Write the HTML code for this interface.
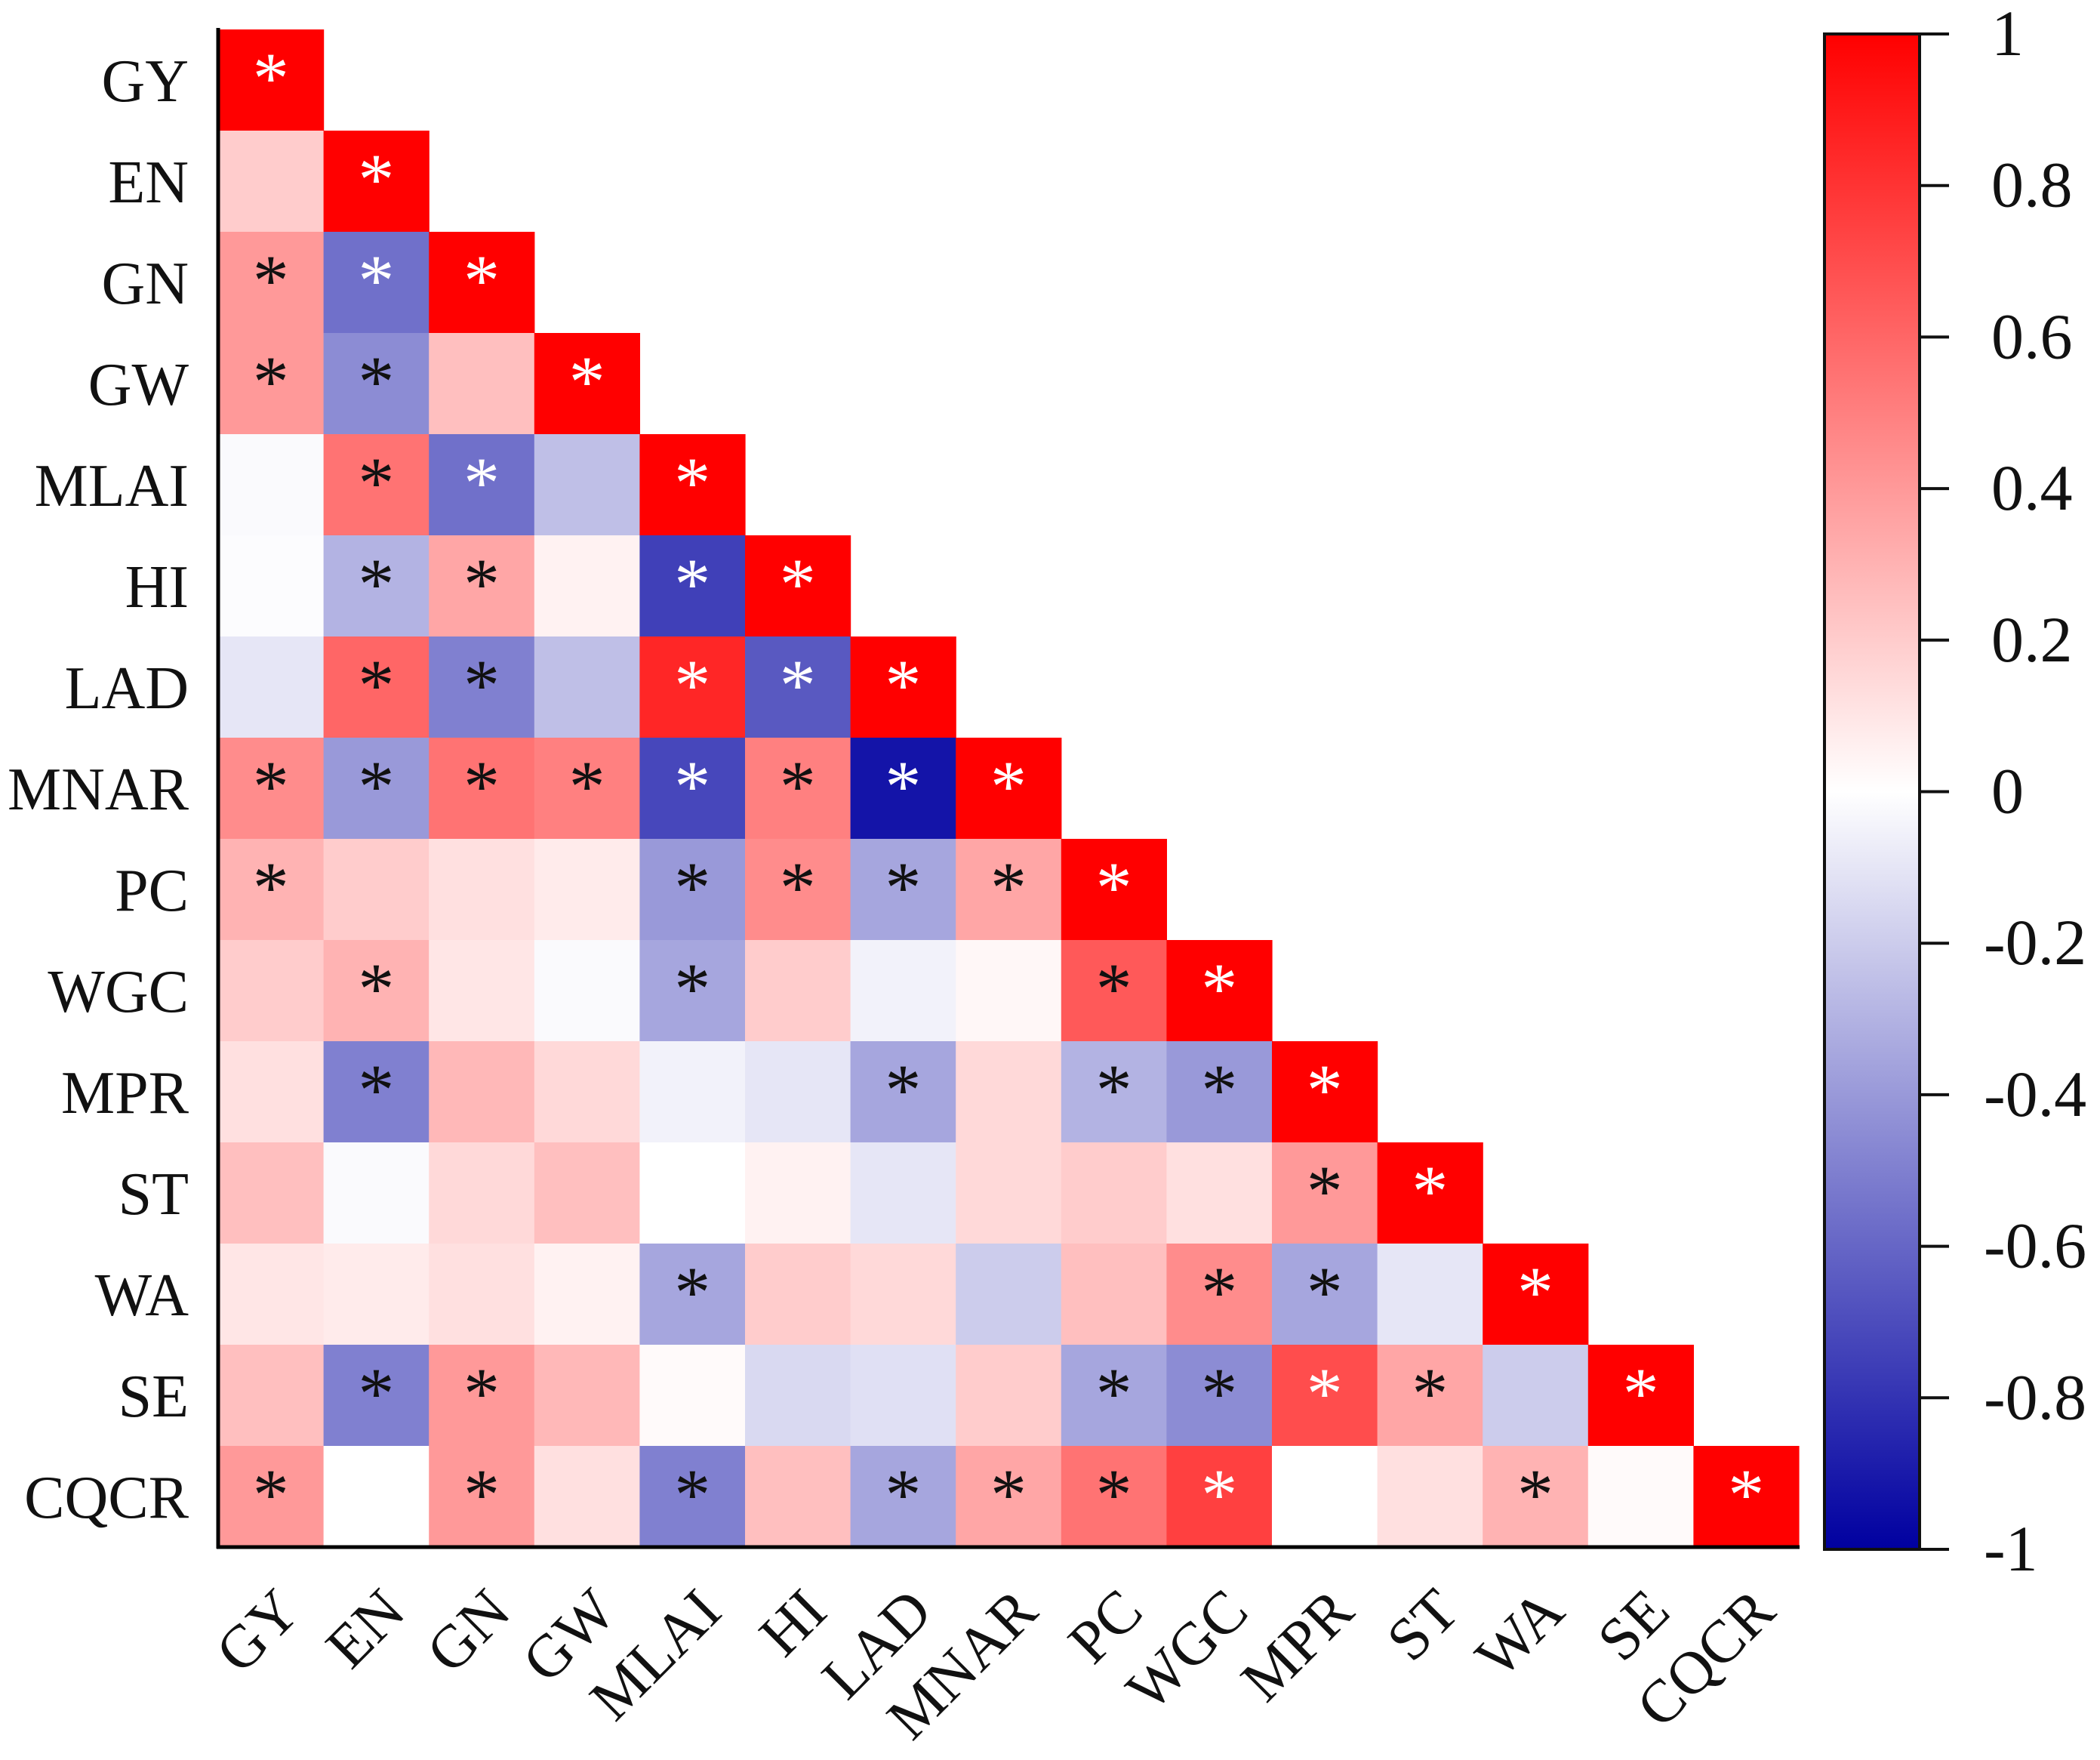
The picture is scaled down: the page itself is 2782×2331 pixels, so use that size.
<!DOCTYPE html>
<html><head><meta charset="utf-8"><style>
html,body{margin:0;padding:0;background:#fff;}
svg{display:block;font-family:"Liberation Serif",serif;}
</style></head><body>
<svg id="chart" width="2782" height="2331" viewBox="0 0 2782 2331" xmlns="http://www.w3.org/2000/svg">
<defs>
<linearGradient id="cbgrad" x1="0" y1="1" x2="0" y2="0">
<stop offset="0" stop-color="rgb(0,0,160)"/>
<stop offset="0.5" stop-color="#ffffff"/>
<stop offset="1" stop-color="rgb(255,0,0)"/>
</linearGradient>
</defs>
<g id="cells"></g>
<g id="stars"></g>
<g id="ylabels"></g>
<g id="xlabels"></g>
<line x1="289" y1="37" x2="289" y2="2051" stroke="#000" stroke-width="5"/>
<line x1="287" y1="2049" x2="2384" y2="2049" stroke="#000" stroke-width="5"/>
<rect x="2417" y="45" width="126" height="2007" fill="url(#cbgrad)" stroke="#111" stroke-width="4"/>
<g id="cbticks"></g>
</svg>
<script>
const variables = ["GY","EN","GN","GW","MLAI","HI","LAD","MNAR","PC","WGC","MPR","ST","WA","SE","CQCR"];
// lower-triangle correlation values, row i has i+1 entries (last = diagonal)
const row0 = [1];
const row1 = [0.2,1];
const row2 = [0.4,-0.56,1];
const row3 = [0.4,-0.45,0.25,1];
const row4 = [-0.02,0.55,-0.56,-0.25,1];
const row5 = [-0.01,-0.3,0.35,0.05,-0.75,1];
const row6 = [-0.1,0.6,-0.5,-0.25,0.85,-0.65,1];
const row7 = [0.45,-0.4,0.55,0.5,-0.72,0.5,-0.92,1];
const row8 = [0.3,0.2,0.12,0.08,-0.4,0.45,-0.35,0.35,1];
const row9 = [0.2,0.3,0.1,-0.02,-0.35,0.2,-0.05,0.03,0.65,1];
const row10 = [0.12,-0.5,0.28,0.15,-0.05,-0.1,-0.35,0.15,-0.3,-0.4,1];
const row11 = [0.25,-0.02,0.15,0.25,0,0.05,-0.1,0.15,0.2,0.12,0.4,1];
const row12 = [0.1,0.08,0.12,0.05,-0.35,0.2,0.15,-0.2,0.25,0.45,-0.35,-0.1,1];
const row13 = [0.25,-0.5,0.4,0.28,0.02,-0.15,-0.12,0.2,-0.35,-0.45,0.7,0.35,-0.2,1];
const row14 = [0.4,0,0.4,0.12,-0.5,0.25,-0.35,0.35,0.55,0.75,0,0.12,0.3,0.02,1];
const values = [row0,row1,row2,row3,row4,row5,row6,row7,row8,row9,row10,row11,row12,row13,row14];
// significance flags (1 = star)
const sig0 = [1];
const sig1 = [0,1];
const sig2 = [1,1,1];
const sig3 = [1,1,0,1];
const sig4 = [0,1,1,0,1];
const sig5 = [0,1,1,0,1,1];
const sig6 = [0,1,1,0,1,1,1];
const sig7 = [1,1,1,1,1,1,1,1];
const sig8 = [1,0,0,0,1,1,1,1,1];
const sig9 = [0,1,0,0,1,0,0,0,1,1];
const sig10 = [0,1,0,0,0,0,1,0,1,1,1];
const sig11 = [0,0,0,0,0,0,0,0,0,0,1,1];
const sig12 = [0,0,0,0,1,0,0,0,0,1,1,0,1];
const sig13 = [0,1,1,0,0,0,0,0,1,1,1,1,0,1];
const sig14 = [1,0,1,0,1,0,1,1,1,1,0,0,1,0,1];
const sigs = [sig0,sig1,sig2,sig3,sig4,sig5,sig6,sig7,sig8,sig9,sig10,sig11,sig12,sig13,sig14];
const cbTicks = [1,0.8,0.6,0.4,0.2,0,-0.2,-0.4,-0.6,-0.8,-1];
const cbTickLabels = ["1","0.8","0.6","0.4","0.2","0","-0.2","-0.4","-0.6","-0.8","-1"];

const NS = "http://www.w3.org/2000/svg";
const X0 = 289, Y0 = 39, CW = (2383-289)/15, CH = 134;
const xPos = j => X0 + j*CW;
const yPos = i => Y0 + i*CH;
const CB_TOP = 45, CB_BOT = 2052;
const cbY = v => CB_BOT - (v+1)/2*(CB_BOT-CB_TOP);
function color(v){
  if (v >= 0){ const c = Math.round(255*(1-v)); return `rgb(255,${c},${c})`; }
  const t = -v; return `rgb(${Math.round(255*(1-t))},${Math.round(255*(1-t))},${Math.round(255-95*t)})`;
}
function mk(tag, attrs, parent){
  const el = document.createElementNS(NS, tag);
  for (const k in attrs) el.setAttribute(k, attrs[k]);
  parent.appendChild(el); return el;
}
const gc = document.getElementById('cells'), gs = document.getElementById('stars');
const gy = document.getElementById('ylabels'), gx = document.getElementById('xlabels');
const gt = document.getElementById('cbticks');
values.forEach((row,i)=>{
  row.forEach((v,j)=>{
    const r = mk('rect',{x:xPos(j),y:yPos(i),width:CW+0.6,height:CH+0.6,fill:color(v)},gc);
    
    
    if (sigs[i][j]){
      const white = v > 0.68 || v < -0.52;
      const s = mk('text',{x:xPos(j)+CW/2,y:yPos(i)+CH/2+30,'text-anchor':'middle','font-size':96,fill:white?'#fff':'#111'},gs);
      s.textContent = '*';
      
      
    }
  });
});
variables.forEach((name,i)=>{
  const t = mk('text',{x:250,y:yPos(i)+CH/2+28,'text-anchor':'end','font-size':80,fill:'#111'},gy);
  t.textContent = name;
  
  
  const cx = xPos(i)+CW/2+42, cy = 2138;
  const u = mk('text',{x:cx,y:cy,'text-anchor':'end','font-size':80,fill:'#111',transform:`rotate(-45 ${cx} ${cy})`},gx);
  u.textContent = name;
  
  
});
cbTicks.forEach((v,k)=>{
  const y = cbY(v);
  const l = mk('line',{x1:2543,y1:y,x2:2582,y2:y,stroke:'#111','stroke-width':4},gt);
  
  
  const t = mk('text',{x:v<0?2628:2638,y:y+28,'font-size':86,fill:'#111'},gt);
  t.textContent = cbTickLabels[k];
  
  
});
</script>
</body></html>
